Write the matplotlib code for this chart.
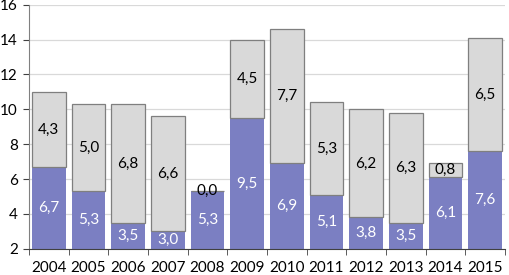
import matplotlib
matplotlib.use("Agg")
import matplotlib.pyplot as plt
import numpy as np

years = ["2004", "2005", "2006", "2007", "2008", "2009",
         "2010", "2011", "2012", "2013", "2014", "2015"]
lower = [6.7, 5.3, 3.5, 3.0, 5.3, 9.5, 6.9, 5.1, 3.8, 3.5, 6.1, 7.6]
upper = [4.3, 5.0, 6.8, 6.6, 0.0, 4.5, 7.7, 5.3, 6.2, 6.3, 0.8, 6.5]

plt.rcParams['font.family'] = ['Lato', 'DejaVu Sans']

fig = plt.figure(figsize=(5.09, 2.75), dpi=100)
ax = fig.add_axes([0.057, 0.095, 0.935, 0.888])

x = np.arange(len(years))
ymin, ymax = 2, 16
width = 0.85

ax.bar(x, lower, width, color='#7b7fc2', edgecolor='none', zorder=2)
ax.bar(x, upper, width, bottom=lower, color='#d9d9d9',
       edgecolor='#7f7f7f', linewidth=0.9, zorder=2)

# value labels, centred in the visible part of each segment
for i in range(len(years)):
    lo = max(ymin, 0)
    y1 = (lo + lower[i]) / 2
    ax.text(x[i], y1, f"{lower[i]:.1f}".replace('.', ','), ha='center',
            va='center', color='white', fontsize=11, zorder=3)
    y2 = lower[i] + upper[i] / 2
    ax.text(x[i], y2, f"{upper[i]:.1f}".replace('.', ','), ha='center',
            va='center', color='black', fontsize=11, zorder=3)

ax.set_ylim(ymin, ymax)
ax.set_xlim(-0.5, len(years) - 0.5)
ax.set_yticks(range(2, 17, 2))
ax.set_xticks(x)
ax.set_xticklabels(years)
ax.set_xticks(np.arange(-0.5, len(years), 1), minor=True)
ax.tick_params(axis='x', which='major', length=0, pad=9, labelsize=11)
ax.tick_params(axis='x', which='minor', length=4, color='#404040')
ax.tick_params(axis='y', length=4, color='#404040', labelsize=11, pad=4)

ax.grid(axis='y', color='#d9d9d9', linewidth=0.9, zorder=0)
ax.set_axisbelow(True)
for s in ['top', 'right']:
    ax.spines[s].set_visible(False)
ax.spines['left'].set_color('#808080')
ax.spines['bottom'].set_color('#404040')

fig.savefig("out.png", dpi=100)
